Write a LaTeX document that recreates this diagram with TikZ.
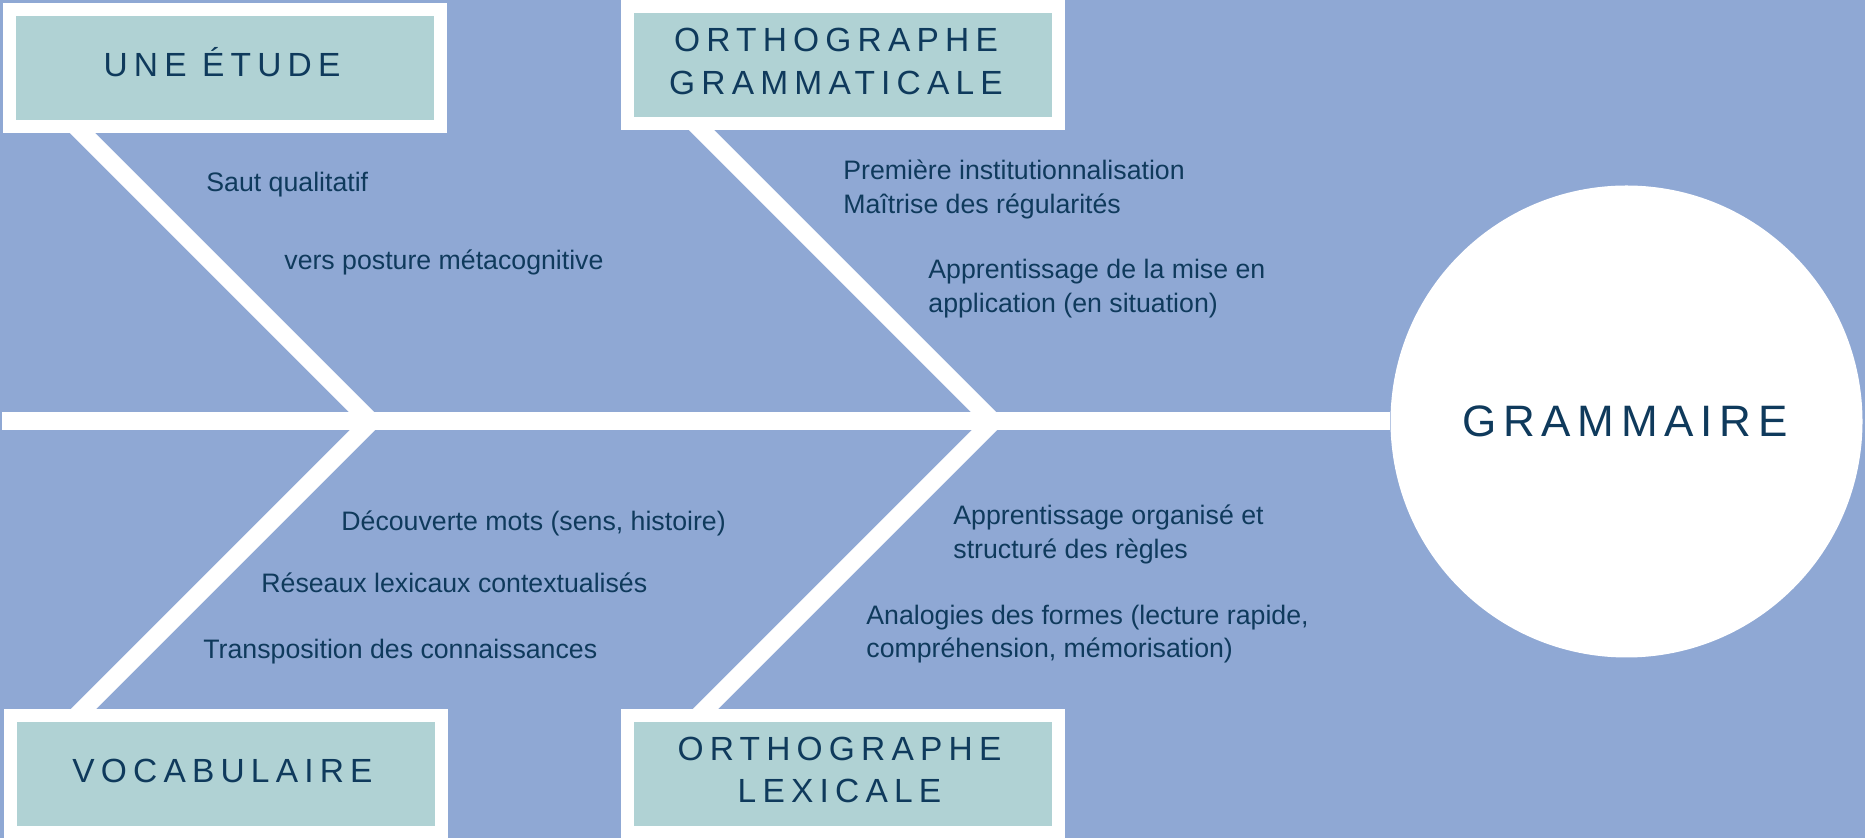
\documentclass[tikz,border=0pt]{standalone}
\usepackage{fontspec}
\setmainfont{Liberation Sans}
\newfontfamily\trackfont[LetterSpace=18.5]{Liberation Sans}
\newfontfamily\bigtrackfont[LetterSpace=15.5]{Liberation Sans}
\usetikzlibrary{calc}
\definecolor{bgblue}{HTML}{8FA8D4}
\definecolor{boxteal}{HTML}{B0D2D4}
\definecolor{navy}{HTML}{0F3A5C}
\pgfdeclarelayer{under}
\pgfsetlayers{under,main}
\tikzset{
  bone/.style={draw=white, line width=9pt, line join=miter, miter limit=10},
  spineline/.style={draw=white, line width=9pt},
  catbox/.style={rectangle, draw=white, fill=boxteal, line width=6.5pt,
    minimum width=215.5pt, minimum height=58.5pt, inner sep=0pt},
  cattext/.style={text=navy, inner sep=0pt, align=center,
    font=\trackfont\fontsize{16.75}{21.25}\selectfont},
  headcircle/.style={circle, fill=white, minimum size=236pt, inner sep=0pt},
  headtext/.style={text=navy, inner sep=0pt,
    font=\bigtrackfont\fontsize{22}{26}\selectfont},
  note/.style={text=navy, inner sep=0pt, anchor=base west,
    font=\fontsize{13.35}{17}\selectfont}
}
\begin{document}
\begin{tikzpicture}[x=0.5pt, y=-0.5pt]
\useasboundingbox (0,0) rectangle (1865,838);

% head
\node[headcircle] (gram) at (1626.5,421.5) {};
\node[headtext] (gramlabel) at (1625,421) {GRAMMAIRE};
\coordinate (spL) at (2,421.5);
\coordinate (J1) at (371,421.5);
\coordinate (J2) at (993,421.5);
\coordinate (ua) at ($(J1)+(-300,-300)$);
\coordinate (la) at ($(J1)+(-300,300)$);
\coordinate (ub) at ($(J2)+(-300,-300)$);
\coordinate (lb) at ($(J2)+(-300,300)$);

\begin{pgfonlayer}{under}
\fill[bgblue] (0,0) rectangle (1865,838);
\draw[spineline] (spL) -- (spL -| gram.west);
\draw[bone] (ua) -- (J1) -- (la);
\draw[bone] (ub) -- (J2) -- (lb);
\end{pgfonlayer}

% category boxes
\node[catbox] (b1) at (225,68) {};
\node[catbox] (b2) at (842.5,65.5) {};
\node[catbox] (b3) at (225.5,774) {};
\node[catbox] (b4) at (842.5,774) {};

\node[cattext, anchor=base] (l1) at (222,77) {UNE ÉTUDE};
\node[cattext, anchor=center] (l2) at (836,61.5) {ORTHOGRAPHE\\GRAMMATICALE};
\node[cattext, anchor=base] (l3) at (222.5,783) {VOCABULAIRE};
\node[cattext, anchor=center] (l4) at (839.5,770) {ORTHOGRAPHE\\LEXICALE};

% notes
\node[note] (n1) at (206,192) {Saut qualitatif};
\node[note] (n2) at (284,270) {vers posture métacognitive};
\node[note] (n3a) at (843,180) {Première institutionnalisation};
\node[note] (n3b) at (843,214) {Maîtrise des régularités};
\node[note] (n4a) at (928,279) {Apprentissage de la mise en};
\node[note] (n4b) at (928,313) {application (en situation)};
\node[note] (n5) at (341,531) {Découverte mots (sens, histoire)};
\node[note] (n6) at (261,593) {Réseaux lexicaux contextualisés};
\node[note] (n7) at (203,659) {Transposition des connaissances};
\node[note] (n8a) at (953,525) {Apprentissage organisé et};
\node[note] (n8b) at (953,559) {structuré des règles};
\node[note] (n9a) at (866,625) {Analogies des formes (lecture rapide,};
\node[note] (n9b) at (866,658) {compréhension, mémorisation)};
\end{tikzpicture}
\end{document}
